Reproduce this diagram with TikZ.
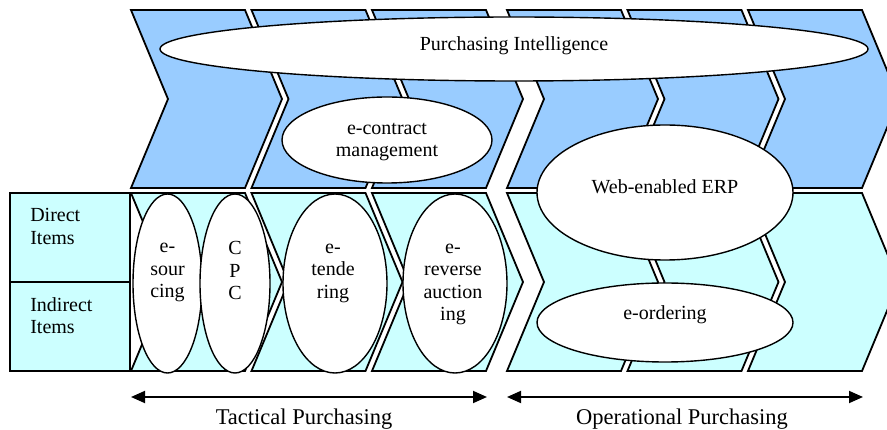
\documentclass[tikz,border=0pt]{standalone}
\usepackage{fontspec}
\setmainfont{Liberation Serif}
\usepackage{xcolor}
\usetikzlibrary{shapes.geometric,arrows.meta,positioning,calc}

\definecolor{topblue}{RGB}{153,204,255}
\definecolor{lightcyan}{RGB}{204,255,255}

\begin{document}
\begin{tikzpicture}[
    x=1pt, y=-1pt,
    topchev/.style={draw, line width=1.8pt, fill=topblue},
    botchev/.style={draw, line width=1.8pt, fill=lightcyan},
    itembox/.style={rectangle, draw, line width=1.8pt, fill=lightcyan, minimum width=120pt, minimum height=89pt, inner sep=0pt},
    bubble/.style={ellipse, draw, line width=1.4pt, fill=white, inner sep=0pt},
    txt/.style={font=\fontsize{20}{22.5}\selectfont, align=center, inner sep=0pt},
    caption/.style={font=\fontsize{22.5}{25}\selectfont, inner sep=0pt},
    span/.style={{Triangle[length=14pt,width=12pt]}-{Triangle[length=14pt,width=12pt]}, line width=1.8pt}
]
    \clip (0,0) rectangle (887,430);

    % chevrons, tactical then operational
    \foreach \x in {131,251.5,372,507,627.5,748} {
        \draw[topchev] (\x,10) -- ++(114,0) -- ++(37,89) -- ++(-37,89) -- ++(-114,0) -- ++(37,-89) -- cycle;
        \draw[botchev] (\x,193) -- ++(114,0) -- ++(37,89) -- ++(-37,89) -- ++(-114,0) -- ++(37,-89) -- cycle;
    }

    \node[itembox] (direct) at (70,237.5) {};
    \node[itembox] (indirect) at (70,326.5) {};
    \node[txt, anchor=west, align=left] (directT) at ([xshift=21pt,yshift=11pt]direct.west) {Direct\\Items};
    \node[txt, anchor=west, align=left] (indirectT) at ([xshift=21pt,yshift=11pt]indirect.west) {Indirect\\Items};

    \node[bubble, minimum width=708pt, minimum height=64pt] (intel) at (514,49) {};
    \node[txt] (intelT) at ([yshift=3pt]intel.center) {Purchasing Intelligence};
    \node[bubble, minimum width=210pt, minimum height=86pt] (contract) at (387,140) {};
    \node[txt] (contractT) at ([yshift=-2pt]contract.center) {e-contract\\management};
    \node[bubble, minimum width=256pt, minimum height=135pt] (erp) at (665,192.5) {};
    \node[txt] (erpT) at ([yshift=6pt]erp.center) {Web-enabled ERP};
    \node[bubble, minimum width=256pt, minimum height=79pt] (eorder) at (665,322.5) {};
    \node[txt] (eorderT) at ([yshift=7.5pt]eorder.center) {e-ordering};

    \node[bubble, minimum width=69pt, minimum height=179pt] (esrc) at (167.5,283.5) {};
    \node[txt] (esrcT) at ([yshift=11pt]esrc.center) {e-\\sour\\cing};
    \node[bubble, minimum width=70pt, minimum height=179pt] (cpc) at (235,283.5) {};
    \node[txt] (cpcT) at ([yshift=13pt]cpc.center) {C\\P\\C};
    \node[bubble, minimum width=104pt, minimum height=179pt] (etend) at (335,283.5) {};
    \node[txt] (etendT) at ([xshift=-2pt,yshift=10.5pt]etend.center) {e-\\tende\\ring};
    \node[bubble, minimum width=104pt, minimum height=179pt] (erev) at (455,283.5) {};
    \node[txt] (erevT) at ([xshift=-2pt,yshift=-1pt]erev.center) {e-\\reverse\\auction\\ing};

    \coordinate (tacL) at (131,397);
    \coordinate (tacR) at (487,397);
    \coordinate (opL) at (507,397);
    \coordinate (opR) at (863,397);
    \draw[span] (tacL) -- (tacR);
    \draw[span] (opL) -- (opR);
    \node[caption, anchor=base] (tactical) at (304,425) {Tactical Purchasing};
    \node[caption, anchor=base] (operational) at (682,425) {Operational Purchasing};
\end{tikzpicture}
\end{document}
